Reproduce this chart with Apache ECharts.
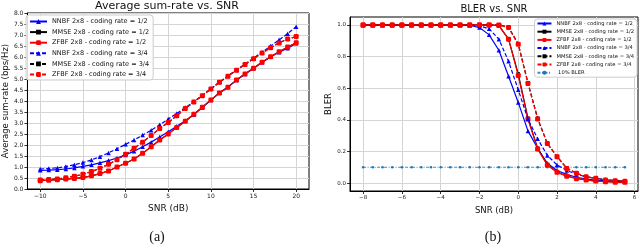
<!DOCTYPE html>
<html><head><meta charset="utf-8">
<script src="https://cdn.jsdelivr.net/npm/echarts@6/dist/echarts.min.js"></script>
<style>
html,body{margin:0;padding:0;background:#fff;}
#wrap{position:relative;width:640px;height:250px;}
.c{position:absolute;left:0;top:0;width:640px;height:250px;}
</style></head>
<body><div id="wrap"><div id="ca" class="c"></div><div id="cb" class="c"></div></div>
<script>
// ---------- Data: (a) Average sum-rate vs SNR ----------
const snrA = [-10,-9,-8,-7,-6,-5,-4,-3,-2,-1,0,1,2,3,4,5,6,7,8,9,10,11,12,13,14,15,16,17,18,19,20];
const aNNBF12 = [0.85,0.86,0.88,0.91,0.96,1.03,1.10,1.19,1.29,1.41,1.55,1.72,1.92,2.13,2.36,2.60,2.85,3.10,3.38,3.70,4.04,4.37,4.64,4.95,5.23,5.49,5.76,6.01,6.22,6.40,6.62];
const aMMSE12 = [0.38,0.40,0.42,0.45,0.48,0.52,0.60,0.70,0.82,1.00,1.17,1.36,1.62,1.92,2.23,2.50,2.80,3.08,3.40,3.72,4.05,4.36,4.63,4.95,5.23,5.49,5.76,6.01,6.24,6.45,6.65];
const aZFBF12 = [0.38,0.40,0.42,0.45,0.48,0.52,0.60,0.70,0.82,1.00,1.17,1.36,1.62,1.92,2.23,2.50,2.80,3.08,3.40,3.72,4.05,4.36,4.63,4.95,5.23,5.49,5.76,6.01,6.24,6.45,6.65];
const aNNBF34 = [0.91,0.93,0.96,1.02,1.10,1.20,1.32,1.47,1.64,1.83,2.03,2.23,2.45,2.67,2.92,3.18,3.43,3.70,3.97,4.25,4.56,4.86,5.14,5.41,5.68,5.95,6.22,6.50,6.78,7.06,7.38];
const aMMSE34 = [0.41,0.43,0.46,0.51,0.58,0.67,0.79,0.94,1.12,1.33,1.58,1.85,2.13,2.43,2.75,3.02,3.33,3.66,3.96,4.24,4.55,4.85,5.13,5.40,5.66,5.92,6.18,6.42,6.64,6.82,6.93];
const aZFBF34 = [0.41,0.43,0.46,0.51,0.58,0.67,0.79,0.94,1.12,1.33,1.58,1.85,2.13,2.43,2.75,3.02,3.33,3.66,3.96,4.24,4.55,4.85,5.13,5.40,5.66,5.92,6.18,6.42,6.64,6.82,6.93];
const ticksAX = [-10,-5,0,5,10,15,20];

// ---------- Data: (b) BLER vs SNR ----------
const snrB = [-8,-7.5,-7,-6.5,-6,-5.5,-5,-4.5,-4,-3.5,-3,-2.5,-2,-1.5,-1,-0.5,0,0.5,1,1.5,2,2.5,3,3.5,4,4.5,5,5.5];
const bNNBF12 = [1,1,1,1,1,1,1,1,1,1,1,0.998,0.983,0.937,0.84,0.675,0.51,0.33,0.22,0.125,0.08,0.055,0.037,0.026,0.019,0.014,0.011,0.009];
const bMMSE12 = [1,1,1,1,1,1,1,1,1,1,1,1,1,1,0.995,0.91,0.69,0.41,0.22,0.115,0.07,0.045,0.029,0.02,0.013,0.009,0.007,0.005];
const bZFBF12 = [1,1,1,1,1,1,1,1,1,1,1,1,1,1,0.996,0.91,0.68,0.405,0.215,0.115,0.068,0.044,0.028,0.02,0.013,0.009,0.006,0.005];
const bNNBF34 = [1,1,1,1,1,1,1,1,1,1,1,1,0.995,0.975,0.91,0.77,0.59,0.405,0.28,0.175,0.115,0.08,0.055,0.04,0.03,0.022,0.017,0.013];
const bMMSE34 = [1,1,1,1,1,1,1,1,1,1,1,1,1,1,1,0.985,0.88,0.635,0.41,0.25,0.168,0.095,0.062,0.04,0.03,0.02,0.015,0.012];
const bZFBF34 = [1,1,1,1,1,1,1,1,1,1,1,1,1,1,1,0.983,0.877,0.63,0.405,0.25,0.167,0.093,0.063,0.04,0.03,0.02,0.015,0.012];
const bTarget = [0.1,0.1,0.1,0.1,0.1,0.1,0.1,0.1,0.1,0.1,0.1,0.1,0.1,0.1,0.1,0.1,0.1,0.1,0.1,0.1,0.1,0.1,0.1,0.1,0.1,0.1,0.1,0.1];
const ticksBX = [-8,-6,-4,-2,0,2,4,6];
const ticksBY = [0,0.2,0.4,0.6,0.8,1.0];

const names = ['NNBF 2x8 - coding rate = 1/2','MMSE 2x8 - coding rate = 1/2','ZFBF 2x8 - coding rate = 1/2',
               'NNBF 2x8 - coding rate = 3/4','MMSE 2x8 - coding rate = 3/4','ZFBF 2x8 - coding rate = 3/4'];
const targetName = ' 10% BLER';

const FF = 'DejaVu Sans';
const zip = (xs, ys) => xs.map((x, i) => [x, ys[i]]);
const minus = v => String(v).replace('-', '\u2212');

function mkSeries(x, ys, symSize, lw) {
  const cols = ['#0000ff','#000000','#ff0000','#0000ff','#000000','#ff0000'];
  const syms = ['triangle','rect','roundRect','triangle','rect','roundRect'];
  const sz = [symSize, symSize-1, symSize+0.5, symSize, symSize-1, symSize+0.5];
  return ys.map((y, i) => ({
    name: names[i], type: 'line', data: zip(x, y),
    symbol: syms[i], symbolSize: sz[i], showSymbol: true,
    lineStyle: {color: cols[i], width: lw, type: i >= 3 ? [4, 2] : 'solid'},
    itemStyle: {color: cols[i]},
    animation: false, z: 2 + i
  }));
}

function axisCommon(fs) {
  return {
    axisLine: {show: true, onZero: false, lineStyle: {color: '#000', width: 1}},
    axisTick: {show: true, inside: false, length: 3, lineStyle: {color: '#000', width: 0.8}},
    splitLine: {show: true, lineStyle: {color: '#d4d4d4', width: 1}},
    axisLabel: {fontFamily: FF, fontSize: fs, color: '#222', margin: 4}
  };
}

// ----- Chart (a)
const ca = echarts.init(document.getElementById('ca'), null, {renderer: 'canvas'});
const axA = axisCommon(6);
ca.setOption({
  animation: false,
  backgroundColor: '#fff',
  grid: {left: 25, top: 13, width: 284, height: 176, show: true, borderColor: '#000', borderWidth: 1, backgroundColor: 'transparent'},
  xAxis: Object.assign({}, axA, {
    type: 'value', min: -11.5, max: 21.5,
    axisTick: Object.assign({}, axA.axisTick, {customValues: ticksAX}),
    axisLabel: Object.assign({}, axA.axisLabel, {customValues: ticksAX, formatter: minus}),
    name: 'SNR (dB)', nameLocation: 'middle', nameGap: 15,
    nameTextStyle: {fontFamily: FF, fontSize: 9, color: '#111'}
  }),
  yAxis: Object.assign({}, axA, {
    type: 'value', min: 0, max: 8, interval: 0.5,
    axisLabel: Object.assign({}, axA.axisLabel, {formatter: v => v.toFixed(1)}),
    name: 'Average sum-rate (bps/Hz)', nameLocation: 'middle', nameGap: 16,
    nameTextStyle: {fontFamily: FF, fontSize: 8.5, color: '#111'}
  }),
  legend: {
    orient: 'vertical', left: 26, top: 15, padding: [3, 4, 2, 3],
    itemWidth: 17, itemHeight: 6, itemGap: 3.6,
    backgroundColor: 'rgba(255,255,255,0.85)', borderColor: '#cccccc', borderWidth: 1, borderRadius: 3,
    textStyle: {fontFamily: FF, fontSize: 6.5, color: '#111'},
    data: names
  },
  graphic: [
    {type: 'text', style: {text: 'Average sum-rate vs. SNR', x: 167, y: 1, font: '11px "DejaVu Sans"', fill: '#111', textAlign: 'center'}},
    {type: 'text', style: {text: '(a)', x: 157, y: 230, font: '14px "Liberation Serif"', fill: '#111', textAlign: 'center'}}
  ],
  series: mkSeries(snrA, [aNNBF12, aMMSE12, aZFBF12, aNNBF34, aMMSE34, aZFBF34], 4.5, 1.2)
});

// ----- Chart (b)
const cb = echarts.init(document.getElementById('cb'), null, {renderer: 'canvas'});
const axB = axisCommon(5.5);
const sB = mkSeries(snrB, [bNNBF12, bMMSE12, bZFBF12, bNNBF34, bMMSE34, bZFBF34], 4.5, 1.2);
sB.push({
  name: targetName, type: 'line', data: zip(snrB, bTarget),
  symbol: 'circle', symbolSize: 2.5,
  lineStyle: {color: '#3a8bd0', width: 1.2, type: [3, 1.5, 1, 1.5]},
  itemStyle: {color: '#1f77b4'}, animation: false, z: 1
});
cb.setOption({
  animation: false,
  grid: {left: 350, top: 17, width: 288, height: 174, show: true, borderColor: '#000', borderWidth: 1, backgroundColor: 'transparent'},
  xAxis: Object.assign({}, axB, {
    type: 'value', min: -8.675, max: 6.175,
    axisTick: Object.assign({}, axB.axisTick, {customValues: ticksBX}),
    axisLabel: Object.assign({}, axB.axisLabel, {customValues: ticksBX, formatter: minus}),
    name: 'SNR (dB)', nameLocation: 'middle', nameGap: 14,
    nameTextStyle: {fontFamily: FF, fontSize: 8.5, color: '#111'}
  }),
  yAxis: Object.assign({}, axB, {
    type: 'value', min: -0.05, max: 1.05,
    axisTick: Object.assign({}, axB.axisTick, {customValues: ticksBY}),
    axisLabel: Object.assign({}, axB.axisLabel, {customValues: ticksBY, formatter: v => v.toFixed(1)}),
    name: 'BLER', nameLocation: 'middle', nameGap: 15,
    nameTextStyle: {fontFamily: FF, fontSize: 8.5, color: '#111'}
  }),
  legend: {
    orient: 'vertical', right: 3, top: 19, padding: [2, 3, 2, 2],
    itemWidth: 14, itemHeight: 5, itemGap: 3.2,
    backgroundColor: 'rgba(255,255,255,0.85)', borderColor: '#cccccc', borderWidth: 1, borderRadius: 3,
    textStyle: {fontFamily: FF, fontSize: 5.2, color: '#111'},
    data: names.concat([targetName])
  },
  graphic: [
    {type: 'text', style: {text: 'BLER vs. SNR', x: 494, y: 4, font: '10px "DejaVu Sans"', fill: '#111', textAlign: 'center'}},
    {type: 'text', style: {text: '(b)', x: 493, y: 230, font: '14px "Liberation Serif"', fill: '#111', textAlign: 'center'}}
  ],
  series: sB
});
</script></body></html>
